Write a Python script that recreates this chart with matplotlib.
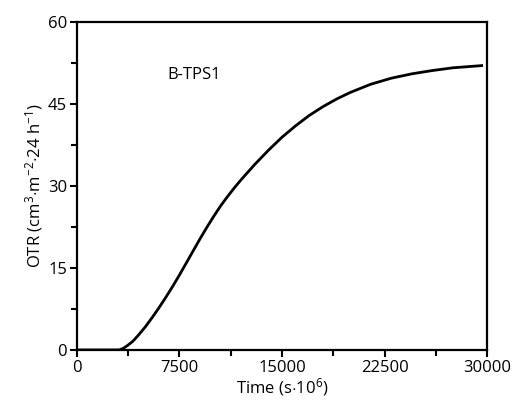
# plot.py
import matplotlib
matplotlib.use('Agg')
import matplotlib.pyplot as plt
from matplotlib.ticker import MultipleLocator

plt.rcParams['font.family'] = ['Open Sans', 'DejaVu Sans']
plt.rcParams['mathtext.fontset'] = 'custom'
plt.rcParams['mathtext.rm'] = 'Open Sans'
plt.rcParams['mathtext.it'] = 'Open Sans:italic'
plt.rcParams['mathtext.bf'] = 'Open Sans:bold'

# OTR curve
time = [0, 2500, 3100, 3400, 3700, 4100, 4500, 5000, 5500, 6000, 6500, 7000,
        7500, 8000, 8500, 9000, 9500, 10000, 10500, 11000, 11500, 12000,
        12500, 13000, 14000, 15000, 16000, 17000, 18000, 19000, 20000,
        21500, 23000, 24500, 26000, 27500, 29600]
otr = [0, 0, 0, 0.3, 0.8, 1.6, 2.7, 4.2, 5.9, 7.7, 9.6, 11.6,
       13.7, 15.9, 18.1, 20.3, 22.4, 24.4, 26.3, 28.0, 29.6, 31.1,
       32.5, 33.9, 36.5, 38.9, 41.0, 42.9, 44.5, 45.9, 47.1,
       48.6, 49.7, 50.5, 51.1, 51.6, 52.0]
label = 'B-TPS1'

fig = plt.figure(figsize=(5.16, 4.05), dpi=100)
ax = fig.add_axes([0.149, 0.136, 0.795, 0.81])

ax.plot(time, otr, color='black', linewidth=2)
ax.text(6650, 50.3, label, fontsize=12, va='center', ha='left')

ax.set_xlim(0, 30000)
ax.set_ylim(0, 60)
ax.xaxis.set_major_locator(MultipleLocator(7500))
ax.xaxis.set_minor_locator(MultipleLocator(3750))
ax.yaxis.set_major_locator(MultipleLocator(15))
ax.yaxis.set_minor_locator(MultipleLocator(7.5))
ax.tick_params(which='major', direction='out', length=5, width=1.5, labelsize=12, pad=2)
ax.tick_params(which='minor', direction='out', length=4, width=1.5)
for s in ax.spines.values():
    s.set_linewidth(1.6)

ax.set_xlabel(r'Time (s$\cdot$10$^{6}$)', fontsize=12, labelpad=0)
ax.set_ylabel(r'OTR (cm$^{3}$$\cdot$m$^{-2}$$\cdot$24 h$^{-1}$)', fontsize=12, labelpad=2)

plt.savefig('out.png', dpi=100)
